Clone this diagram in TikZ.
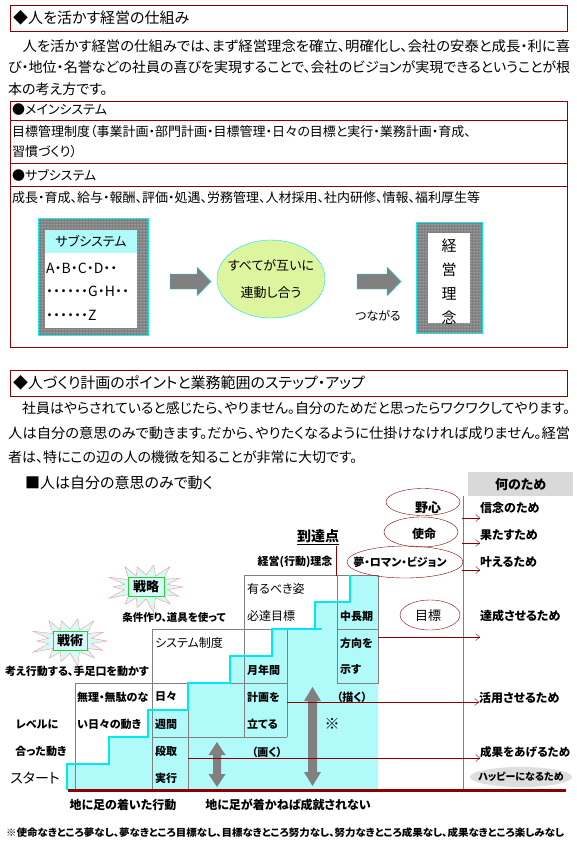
\documentclass[tikz,border=0pt]{standalone}
\usepackage{fontspec}
\setmainfont{Noto Sans CJK JP}[RawFeature=+palt]
\usepackage{graphicx}
\usepackage{tikz}
\usetikzlibrary{arrows.meta,positioning,shapes.geometric,calc,patterns}
\definecolor{frameR}{RGB}{140,0,0}
\definecolor{stepC}{RGB}{176,250,250}
\definecolor{edgeC}{RGB}{0,232,240}
\definecolor{gridG}{RGB}{128,128,128}
\definecolor{ovalY}{RGB}{222,245,160}
\definecolor{headG}{RGB}{217,217,217}
\definecolor{happyG}{RGB}{222,222,222}
\definecolor{burstP}{RGB}{245,150,150}
\definecolor{burstC}{RGB}{214,250,250}
\definecolor{tagG}{RGB}{40,210,40}
\newcommand\pxfont[1]{\fontsize{#1}{#1}\selectfont}
\newcommand\fullline[1]{\resizebox{562pt}{\height}{#1}}

\begin{document}
\begin{tikzpicture}[x=1pt, y=-1pt, font=\pxfont{13}, >={Straight Barb[length=4pt,width=7pt]}]
  \useasboundingbox (0,0) rectangle (576,849);
  \fill[white] (0,0) rectangle (576,849);
  \tikzstyle{headbox}=[draw=frameR, anchor=north west, minimum height=26, text width=551, inner xsep=3, align=left, font=\pxfont{15}]
  \tikzstyle{paraline}=[anchor=west, inner sep=0, font=\pxfont{14}]
  \tikzstyle{rowtxt}=[anchor=west, inner sep=0, font=\pxfont{13}]

  % part one: heading, text, table
  \node[headbox] (head1) at (10,5) {◆人を活かす経営の仕組み};
  \node[paraline] (p1a) at (8,46) {\fullline{　人を活かす経営の仕組みでは、まず経営理念を確立、明確化し、会社の安泰と成長・利に喜}};
  \node[paraline] (p1b) at (8,67) {\fullline{び・地位・名誉などの社員の喜びを実現することで、会社のビジョンが実現できるということが根}};
  \node[paraline] (p1c) at (8,89) {本の考え方です。};

  \draw[frameR] (10,101) rectangle (567,347);
  \draw[frameR] (10,120) -- (567,120) (10,163) -- (567,163) (10,186) -- (567,186);
  \node[rowtxt] (mainsys) at (12,110) {●メインシステム};
  \node[rowtxt] (mainA) at (12,132) {目標管理制度（事業計画・部門計画・目標管理・日々の目標と実行・業務計画・育成、};
  \node[rowtxt] (mainB) at (12,152) {習慣づくり）};
  \node[rowtxt] (subsys) at (12,175) {●サブシステム};
  \node[rowtxt] (subA) at (12,198) {成長・育成、給与・報酬、評価・処遇、労務管理、人材採用、社内研修、情報、福利厚生等};

  % sub systems -> linked -> philosophy
  \tikzstyle{dotframe}=[draw=edgeC, fill=gridG, postaction={pattern=dots, pattern color=white}, inner sep=0]
  \tikzstyle{blockarrow}=[fill=gridG, draw=edgeC]
  \node[dotframe, minimum width=110, minimum height=117] (subframe) at (93,276.5) {};
  \node[fill=white, minimum width=92, minimum height=98, inner sep=0] (subinner) at (91,279) {};
  \node[fill=stepC, minimum width=92, minimum height=23, inner sep=0, anchor=north, font=\pxfont{13}] (subhead) at (subinner.north) {サブシステム};
  \node[rowtxt, font=\pxfont{14}] (subL1) at (46,268) {A・B・C・D・・};
  \node[rowtxt, font=\pxfont{14}] (subL2) at (46,291) {・・・・・・G・H・・};
  \node[rowtxt, font=\pxfont{14}] (subL3) at (46,315) {・・・・・・Z};

  \filldraw[blockarrow] (170,274) -- (197,274) -- (197,267) -- (211,281.5) -- (197,296) -- (197,289) -- (170,289) -- cycle;
  \node[ellipse, draw=edgeC, fill=ovalY, minimum width=108, minimum height=78, inner sep=0] (linked) at (271,279) {};
  \node (linkedA) at (271,265) {すべてが互いに};
  \node (linkedB) at (271,293) {連動し合う};
  \filldraw[blockarrow] (357,274) -- (387,274) -- (387,267) -- (401,281.5) -- (387,296) -- (387,289) -- (357,289) -- cycle;
  \node[font=\pxfont{12}] (connect) at (378,316) {つながる};

  \node[dotframe, minimum width=66, minimum height=111] (rinenframe) at (449,277.5) {};
  \node[fill=white, minimum width=42, minimum height=90, inner sep=0] (rineninner) at (449,278) {};
  \node[font=\pxfont{15}, align=center] (rinen) at (449,282) {経\\[9pt]営\\[9pt]理\\[9pt]念};

  % part two: heading and text
  \node[headbox] (head2) at (10,370) {◆人づくり計画のポイントと業務範囲のステップ・アップ};
  \node[paraline] (p2a) at (8,408) {\fullline{　社員はやらされていると感じたら、やりません。自分のためだと思ったらワクワクしてやります。}};
  \node[paraline] (p2b) at (8,433) {\fullline{人は自分の意思のみで動きます。だから、やりたくなるように仕掛けなければ成りません。経営}};
  \node[paraline] (p2c) at (8,457) {者は、特にこの辺の人の機微を知ることが非常に大切です。};
  \node[rowtxt, font=\pxfont{15}] (will) at (25,483) {■人は自分の意思のみで動く};

  % staircase
  \fill[stepC] (67,790) -- (67,764) -- (109,764) -- (109,737) -- (148,737) -- (148,710) -- (188,710) -- (188,683)
    -- (230,683) -- (230,656) -- (272,656) -- (272,629) -- (315,629) -- (315,602) -- (350,602) -- (350,575)
    -- (378,575) -- (378,790) -- cycle;
  \draw[gridG] (75,790) -- (75,683) -- (287,683) (152,629) -- (287,629) (152,737) -- (287,737)
    (152,629) -- (152,790) (188,683) -- (188,790) (244,575) -- (244,737) (287,629) -- (287,737)
    (244,575) -- (378,575) -- (378,683) -- (337,683) -- (337,575) (337,629) -- (378,629);
  \draw[edgeC, line width=2] (67,790) -- (67,764) -- (109,764) -- (109,737) -- (148,737) -- (148,710) -- (188,710) -- (188,683)
    -- (230,683) -- (230,656) -- (272,656) -- (272,629) -- (322,629) (315,629) -- (315,602) -- (350,602) -- (350,575);

  \tikzstyle{cell}=[anchor=west, inner sep=0, font=\pxfont{11}\bfseries]
  \tikzstyle{bigcell}=[anchor=west, inner sep=0, font=\pxfont{12}]
  \node[cell] (muri1) at (77,697) {無理・無駄のな};
  \node[cell] (muri2) at (77,724) {い日々の動き};
  \node[cell] (hibi) at (155,697) {日々};
  \node[cell] (shukan) at (155,724) {週間};
  \node[cell] (dandori) at (155,751) {段取};
  \node[cell] (jikko) at (155,778) {実行};
  \node[bigcell] (system) at (155,643) {システム制度};
  \node[cell] (tsukinen) at (247,670) {月年間};
  \node[cell] (keikaku) at (247,697) {計画を};
  \node[cell] (tateru) at (247,724) {立てる};
  \node[bigcell] (arubeki) at (247,589) {有るべき姿};
  \node[bigcell] (hittatsu) at (247,616) {必達目標};
  \node[cell] (chucho) at (340,616) {中長期};
  \node[cell] (hoko) at (340,643) {方向を};
  \node[cell] (shimesu) at (340,670) {示す};
  \node[font=\pxfont{11}\bfseries] (egaku) at (352,697) {（描く）};
  \node[font=\pxfont{11}\bfseries] (kaku) at (267,752) {（画く）};
  \node[font=\pxfont{15}\bfseries] (kome) at (332,724) {※};

  % up and down arrows
  \fill[gridG] (217,742) -- (225.5,755) -- (221,755) -- (221,774) -- (225.5,774) -- (217,787) -- (208.5,774) -- (213,774) -- (213,755) -- (208.5,755) -- cycle;
  \fill[gridG] (312.5,687) -- (321,701) -- (317,701) -- (317,772) -- (321,772) -- (312.5,786) -- (304,772) -- (308,772) -- (308,701) -- (304,701) -- cycle;

  % left side
  \tikzstyle{burst}=[draw=burstP, fill=burstC]
  \tikzstyle{tag}=[draw=tagG, fill=burstC, minimum width=36, minimum height=19, inner sep=1, font=\pxfont{13}\bfseries]
  \foreach \cx/\cy/\nm in {146/587/burstA, 70/641/burstB} {
    \draw[burst] plot[samples at={0,...,27}, variable=\k]
      ({\cx+(mod(\k,2)==0 ? 37+4*sin(\k*97) : 22)*cos(\k*360/28)}, {\cy+(mod(\k,2)==0 ? 23+3*cos(\k*61) : 12)*sin(\k*360/28)}) -- cycle;
    \coordinate (\nm) at (\cx,\cy);
  }
  \node[tag] (senryaku) at (burstA) {戦略};
  \node[tag, minimum width=34] (senjutsu) at (burstB) {戦術};
  \node[font=\pxfont{10.5}\bfseries] (joken) at (174,617) {条件作り、道具を使って};
  \node[font=\pxfont{11}\bfseries] (kangae) at (77,671) {考え行動する、手足口を動かす};
  \node[font=\pxfont{11}\bfseries] (level) at (37,724) {レベルに};
  \node[font=\pxfont{11}\bfseries] (atta) at (41,751) {合った動き};
  \node[font=\pxfont{14}] (start) at (35,778) {スタート};
  \node[font=\pxfont{11}\bfseries] (rinenB) at (295,562) {経営(行動)理念};
  \node[font=\pxfont{14}\bfseries, inner sep=1] (totatsu) at (318,537) {\underline{到達点}};
  \draw[frameR] ([xshift=-4pt]totatsu.south east) -- ++(0,30);

  % purpose column
  \node[fill=headG, minimum width=105, minimum height=24, anchor=north west, font=\pxfont{13}\bfseries] (nanno) at (468,472) {何のため};
  \draw[gridG] (463,496) -- (463,790);
  \tikzstyle{ring}=[ellipse, draw=frameR, inner sep=0]
  \tikzstyle{aim}=[anchor=west, inner sep=0, font=\pxfont{12}\bfseries]
  \tikzstyle{pointer}=[draw=frameR, ->]
  \node[ring, minimum width=74, minimum height=27] (yashin) at (423,502) {};
  \node[ring, minimum width=74, minimum height=30] (shimei) at (421,532) {};
  \node[ring, minimum width=116, minimum height=32] (yume) at (405,562) {};
  \node[ring, minimum width=60, minimum height=30] (mokuhyo) at (430,615) {};
  \node[font=\pxfont{13}\bfseries] (yashinT) at (428,508) {野心};
  \node[font=\pxfont{12}\bfseries] (shimeiT) at (424,534) {使命};
  \node[font=\pxfont{11}\bfseries] (yumeT) at (400,562) {夢・ロマン・ビジョン};
  \node[font=\pxfont{13}] (mokuhyoT) at (428,616) {目標};

  \node[aim] (shinnen) at (480,508) {信念のため};
  \node[aim] (hatasu) at (480,535) {果たすため};
  \node[aim] (kanaeru) at (480,562) {叶えるため};
  \node[aim] (tassei) at (480,616) {達成させるため};
  \node[aim] (katsuyo) at (479,698) {活用させるため};
  \node[aim, font=\pxfont{11.5}\bfseries] (seika) at (480,752) {成果をあげるため};
  \node[ellipse, fill=happyG, minimum width=102, minimum height=20, inner sep=0] (happyO) at (521,777) {};
  \node[font=\pxfont{10}\bfseries] (happy) at (521,777) {ハッピーになるため};

  \coordinate (fromYashin) at (462,518);
  \coordinate (fromShimei) at (462,543);
  \coordinate (fromYume) at (462,570);
  \coordinate (fromHoko) at (378,637);
  \coordinate (fromKeikaku) at (287,702);
  \coordinate (fromDandori) at (188,758);
  \draw[pointer] (fromYashin) -- (fromYashin -| shinnen.west);
  \draw[pointer] (fromShimei) -- (fromShimei -| hatasu.west);
  \draw[pointer] (fromYume) -- (fromYume -| kanaeru.west);
  \draw[pointer] (fromHoko) -- (fromHoko -| tassei.west);
  \draw[pointer] (fromKeikaku) -- (fromKeikaku -| katsuyo.west);
  \draw[pointer] (fromDandori) -- (fromDandori -| seika.west);

  % ground line and notes
  \draw[frameR, line width=3] (68,790) -- (566,790);
  \node[font=\pxfont{12}\bfseries] (ground) at (123,805) {地に足の着いた行動};
  \node[font=\pxfont{12}\bfseries] (noground) at (288,805) {地に足が着かねば成就されない};
  \node[anchor=west, inner sep=0, font=\pxfont{10}\bfseries] (note) at (6,833) {\resizebox{558pt}{\height}{※使命なきところ夢なし、夢なきところ目標なし、目標なきところ努力なし、努力なきところ成果なし、成果なきところ楽しみなし}};
\end{tikzpicture}
\end{document}
